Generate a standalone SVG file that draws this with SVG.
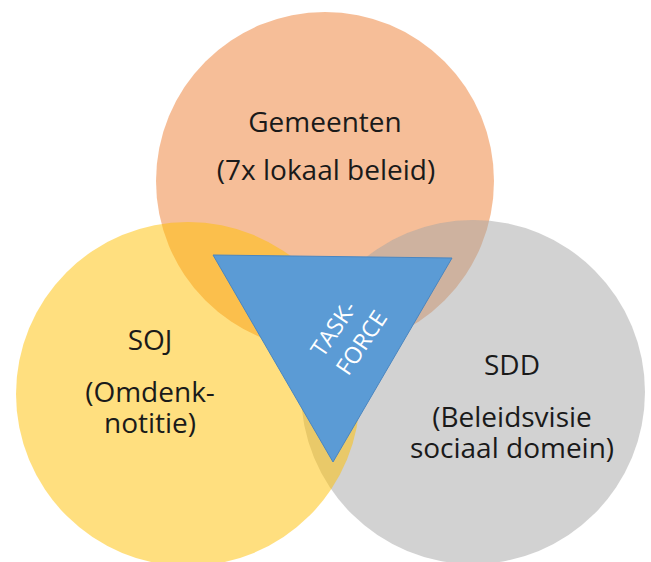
<svg xmlns="http://www.w3.org/2000/svg" width="651" height="562" viewBox="0 0 651 562">
  <style>
    .lbl { font-family: "Open Sans", "Liberation Sans", sans-serif; font-size: 28px; fill: #1a1a1a; text-anchor: middle; }
    .tf { font-family: "Open Sans", "Liberation Sans", sans-serif; font-size: 23px; fill: #ffffff; text-anchor: middle; }
    .c { fill-opacity: 0.5; }
  </style>
  <rect width="651" height="562" fill="#ffffff"/>
  <g id="gemeenten">
    <circle class="c" cx="325" cy="181" r="169" fill="#ED7D31"/>
  </g>
  <g id="sdd">
    <circle class="c" cx="473" cy="392" r="172" fill="#A5A5A5"/>
  </g>
  <g id="soj">
    <circle class="c" cx="188" cy="394" r="172" fill="#FFC000"/>
  </g>
  <g id="gemeenten-label">
    <text class="lbl" x="325" y="132">Gemeenten</text>
    <text class="lbl" x="326" y="180">(7x lokaal beleid)</text>
  </g>
  <g id="soj-label">
    <text class="lbl" x="150" y="350">SOJ</text>
    <text class="lbl" x="150" y="402">(Omdenk-</text>
    <text class="lbl" x="150" y="433">notitie)</text>
  </g>
  <g id="sdd-label">
    <text class="lbl" x="512" y="375">SDD</text>
    <text class="lbl" x="512" y="427">(Beleidsvisie</text>
    <text class="lbl" x="512" y="458">sociaal domein)</text>
  </g>
  <g id="taskforce">
    <polygon points="213,255 452,258 333,462" fill="#5B9BD5" stroke="#4A86C0" stroke-width="1"/>
    <g transform="translate(348,336) rotate(-56)">
      <text class="tf" x="-2" y="-8">TASK-</text>
      <text class="tf" x="2" y="23">FORCE</text>
    </g>
  </g>
</svg>
